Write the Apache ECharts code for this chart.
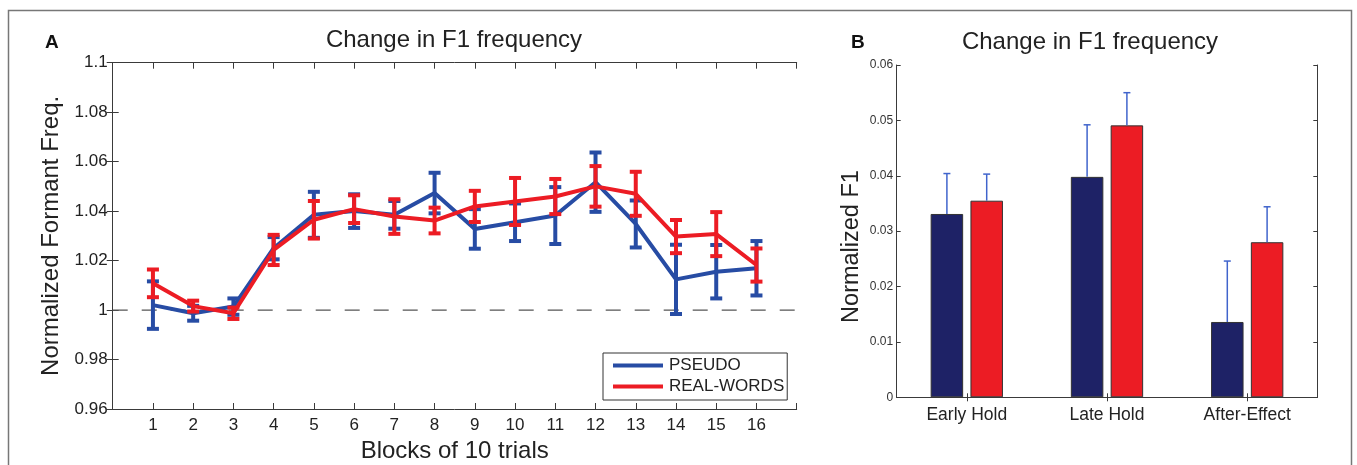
<!DOCTYPE html>
<html>
<head>
<meta charset="utf-8">
<script src="https://cdn.jsdelivr.net/npm/echarts@6/dist/echarts.min.js"></script>
<style>
html,body{margin:0;padding:0;background:#fff;}
#c{width:1357px;height:465px;}
</style>
</head>
<body>
<div id="c"></div>
<script>
// ---- Panel A data ----
const blocks = [1, 2, 3, 4, 5, 6, 7, 8, 9, 10, 11, 12, 13, 14, 15, 16];
const pseudoMean = [1.0020, 0.9987, 1.0014, 1.0250, 1.0385, 1.0400, 1.0385, 1.0473, 1.0328, 1.0355, 1.0382, 1.0517, 1.0348, 1.0124, 1.0155, 1.0169];
const pseudoErr  = [0.0096, 0.0030, 0.0033, 0.0045, 0.0093, 0.0068, 0.0056, 0.0082, 0.0080, 0.0076, 0.0115, 0.0120, 0.0095, 0.0140, 0.0108, 0.0110];
const realMean   = [1.0108, 1.0016, 0.9987, 1.0243, 1.0365, 1.0408, 1.0378, 1.0362, 1.0419, 1.0439, 1.0459, 1.0500, 1.0470, 1.0297, 1.0307, 1.0182];
const realErr    = [0.0056, 0.0022, 0.0023, 0.0061, 0.0076, 0.0056, 0.0070, 0.0052, 0.0063, 0.0095, 0.0071, 0.0082, 0.0089, 0.0067, 0.0089, 0.0067];
const baseline = 1;
const yTicksA = [0.96, 0.98, 1, 1.02, 1.04, 1.06, 1.08, 1.1];

// ---- Panel B data ----
const conditions = ['Early Hold', 'Late Hold', 'After-Effect'];
const pseudoF1    = [0.0331, 0.0398, 0.0136];
const pseudoF1Err = [0.0073, 0.0094, 0.0110];
const realF1      = [0.0355, 0.0491, 0.0280];
const realF1Err   = [0.0048, 0.0059, 0.0064];
const yTicksB = [0, 0.01, 0.02, 0.03, 0.04, 0.05, 0.06];

const FONT = '"Liberation Sans", Arial, Helvetica, sans-serif';
const TXT = '#222';
const AX = '#3a3a3a';
const BLUE = '#274ca4';
const RED = '#ec1c24';
const NAVY = '#1e2266';
const EBLUE = '#4064cc';

function fmt(v){ return String(parseFloat(Number(v).toFixed(3))); }

function errBarA(color){
  return function(params, api){
    const x = api.value(0), m = api.value(1), e = api.value(2);
    const hi = api.coord([x, m + e]);
    const lo = api.coord([x, m - e]);
    const hw = 6;
    const st = {stroke: color, lineWidth: 4};
    return {type:'group', children:[
      {type:'line', shape:{x1:hi[0], y1:hi[1], x2:lo[0], y2:lo[1]}, style:st},
      {type:'line', shape:{x1:hi[0]-hw, y1:hi[1], x2:hi[0]+hw, y2:hi[1]}, style:st},
      {type:'line', shape:{x1:lo[0]-hw, y1:lo[1], x2:lo[0]+hw, y2:lo[1]}, style:st}
    ]};
  };
}
function errBarB(offset){
  return function(params, api){
    const i = api.value(0), v = api.value(1), e = api.value(2);
    const b = api.coord([i, v]);
    const t = api.coord([i, v + e]);
    const x = b[0] + offset;
    const st = {stroke: EBLUE, lineWidth: 1.5};
    return {type:'group', children:[
      {type:'line', shape:{x1:x, y1:b[1], x2:x, y2:t[1]}, style:st},
      {type:'line', shape:{x1:x-3.5, y1:t[1], x2:x+3.5, y2:t[1]}, style:st}
    ]};
  };
}

const chart = echarts.init(document.getElementById('c'), null, {renderer:'canvas'});
const axisLine = {show:true, lineStyle:{color:AX, width:1}};
const barW = 32.5, barGapPx = 7.3;
const off = (barW + barGapPx) / 2;

chart.setOption({
  animation:false,
  backgroundColor:'#fff',
  title:[
    {text:'Change in F1 frequency', left:454, top:28, textAlign:'center', padding:0,
     textStyle:{fontFamily:FONT, fontSize:24, fontWeight:'normal', color:TXT}},
    {text:'Change in F1 frequency', left:1090, top:30, textAlign:'center', padding:0,
     textStyle:{fontFamily:FONT, fontSize:24, fontWeight:'normal', color:TXT}},
    {text:'A', left:45, top:33, padding:0, textStyle:{fontFamily:FONT, fontSize:19, fontWeight:'bold', color:'#111'}},
    {text:'B', left:851, top:33, padding:0, textStyle:{fontFamily:FONT, fontSize:19, fontWeight:'bold', color:'#111'}}
  ],
  graphic:[
    {type:'rect', shape:{x:8.5, y:10.5, width:1343, height:480}, style:{fill:'none', stroke:'#777', lineWidth:1.5}, silent:true, z:-10},
    {type:'text', x:852, y:246.5, rotation:Math.PI/2,
     style:{text:'Normalized F1', fontFamily:FONT, fontSize:23.5, fill:TXT, align:'center', verticalAlign:'middle'}}
  ],
  legend:{
    data:['PSEUDO','REAL-WORDS'], orient:'vertical', left:603, top:353,
    backgroundColor:'#fff', borderColor:'#333', borderWidth:1, padding:[4,3,5,10],
    itemGap:4, itemWidth:50, itemHeight:4, icon:'rect',
    textStyle:{fontFamily:FONT, fontSize:17, color:TXT, padding:[0,0,0,1]}
  },
  grid:[
    {left:112.7, top:62.7, width:684, height:346.3, outerBoundsMode:'none', containLabel:false},
    {left:896.7, top:65, width:420.6, height:332.3, outerBoundsMode:'none', containLabel:false}
  ],
  xAxis:[
    {gridIndex:0, type:'value', min:0, max:17, interval:1, position:'bottom',
     name:'Blocks of 10 trials', nameLocation:'middle', nameGap:24,
     nameTextStyle:{fontFamily:FONT, fontSize:24, color:TXT},
     axisLine:axisLine, axisTick:{show:true, inside:true, length:6, lineStyle:{color:AX}},
     axisLabel:{fontFamily:FONT, fontSize:17, color:TXT, margin:8,
       formatter:function(v){ return blocks.indexOf(v) >= 0 ? String(v) : ''; }},
     splitLine:{show:false}},
    {gridIndex:0, type:'value', min:0, max:17, interval:1, position:'top',
     axisLine:axisLine, axisTick:{show:true, inside:true, length:6, lineStyle:{color:AX}},
     axisLabel:{show:false}, splitLine:{show:false}},
    {gridIndex:1, type:'category', data:conditions, position:'bottom', boundaryGap:true,
     axisLine:axisLine, axisTick:{show:true, inside:true, length:4, alignWithLabel:true, lineStyle:{color:AX}},
     axisLabel:{fontFamily:FONT, fontSize:17.5, color:TXT, margin:9}, splitLine:{show:false}},
    {gridIndex:1, type:'category', data:conditions, position:'top', boundaryGap:true,
     axisLine:axisLine, axisTick:{show:true, inside:true, length:4, alignWithLabel:true, lineStyle:{color:AX}},
     axisLabel:{show:false}, splitLine:{show:false}}
  ],
  yAxis:[
    {gridIndex:0, type:'value', min:yTicksA[0], max:yTicksA[yTicksA.length-1], interval:0.02, position:'left',
     name:'Normalized Formant Freq.', nameLocation:'middle', nameGap:42,
     nameTextStyle:{fontFamily:FONT, fontSize:24, color:TXT},
     axisLine:axisLine, axisTick:{show:true, inside:true, length:6, lineStyle:{color:AX}},
     axisLabel:{fontFamily:FONT, fontSize:17, color:TXT, margin:5, formatter:fmt}, splitLine:{show:false}},
    {gridIndex:0, type:'value', min:yTicksA[0], max:yTicksA[yTicksA.length-1], interval:0.02, position:'right',
     axisLine:axisLine, axisTick:{show:true, inside:true, length:6, lineStyle:{color:AX}},
     axisLabel:{show:false}, splitLine:{show:false}},
    {gridIndex:1, type:'value', min:yTicksB[0], max:yTicksB[yTicksB.length-1], interval:0.01, position:'left',
     axisLine:axisLine, axisTick:{show:true, inside:true, length:4, lineStyle:{color:AX}},
     axisLabel:{fontFamily:FONT, fontSize:12, color:'#333', margin:3.5, formatter:fmt}, splitLine:{show:false}},
    {gridIndex:1, type:'value', min:yTicksB[0], max:yTicksB[yTicksB.length-1], interval:0.01, position:'right',
     axisLine:axisLine, axisTick:{show:true, inside:true, length:4, lineStyle:{color:AX}},
     axisLabel:{show:false}, splitLine:{show:false}}
  ],
  series:[
    {name:'baseline', type:'line', xAxisIndex:0, yAxisIndex:0, silent:true, showSymbol:false,
     data:[[0, baseline],[17, baseline]], z:1,
     lineStyle:{color:'#555', width:1.2, type:[15,14]}},
    {name:'PSEUDO', type:'line', xAxisIndex:0, yAxisIndex:0, showSymbol:false, z:2,
     data:blocks.map((b,i)=>[b, pseudoMean[i]]), itemStyle:{color:BLUE},
     lineStyle:{color:BLUE, width:4}},
    {name:'PSEUDO err', type:'custom', xAxisIndex:0, yAxisIndex:0, z:3,
     renderItem:errBarA(BLUE), data:blocks.map((b,i)=>[b, pseudoMean[i], pseudoErr[i]])},
    {name:'REAL-WORDS', type:'line', xAxisIndex:0, yAxisIndex:0, showSymbol:false, z:4,
     data:blocks.map((b,i)=>[b, realMean[i]]), itemStyle:{color:RED},
     lineStyle:{color:RED, width:4}},
    {name:'REAL-WORDS err', type:'custom', xAxisIndex:0, yAxisIndex:0, z:5,
     renderItem:errBarA(RED), data:blocks.map((b,i)=>[b, realMean[i], realErr[i]])},
    {name:'PSEUDO F1', type:'bar', xAxisIndex:2, yAxisIndex:2, barWidth:barW, barGap:(barGapPx/barW*100)+'%',
     data:pseudoF1, itemStyle:{color:NAVY, borderColor:'#333', borderWidth:1}},
    {name:'REAL F1', type:'bar', xAxisIndex:2, yAxisIndex:2, barWidth:barW,
     data:realF1, itemStyle:{color:RED, borderColor:'#333', borderWidth:1}},
    {name:'PSEUDO F1 err', type:'custom', xAxisIndex:2, yAxisIndex:2, z:6,
     renderItem:errBarB(-off), data:conditions.map((c,i)=>[i, pseudoF1[i], pseudoF1Err[i]])},
    {name:'REAL F1 err', type:'custom', xAxisIndex:2, yAxisIndex:2, z:6,
     renderItem:errBarB(off), data:conditions.map((c,i)=>[i, realF1[i], realF1Err[i]])}
  ]
});
</script>
</body>
</html>
